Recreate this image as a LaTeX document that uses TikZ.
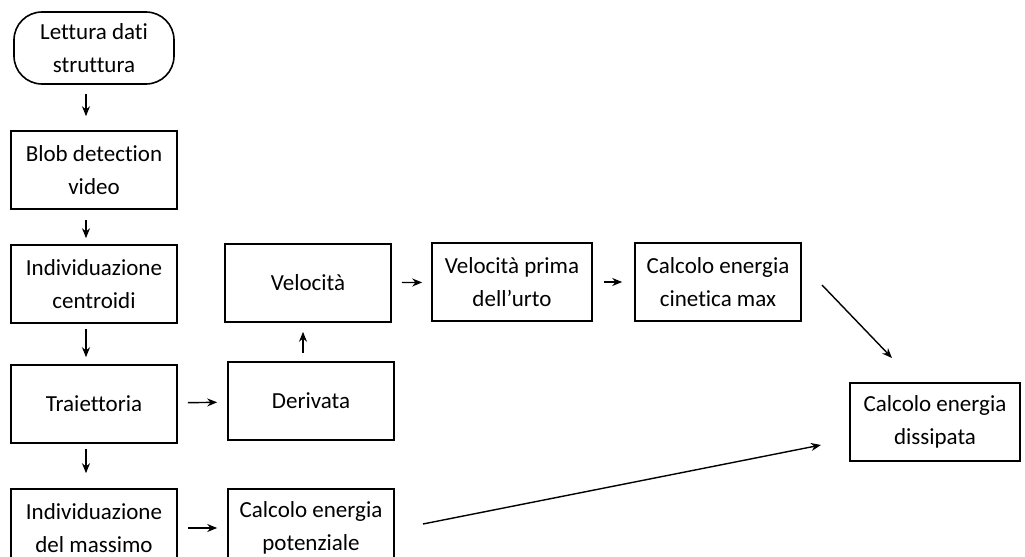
\documentclass[tikz,border=0pt]{standalone}
\usepackage{fontspec}
\setmainfont{Carlito}[Ligatures={NoCommon}]
\usetikzlibrary{arrows.meta}

\tikzset{
  box/.style={draw, line width=0.8pt, align=center, inner sep=1pt,
    minimum width=83pt, minimum height=39pt,
    font=\fontsize{11.5}{16.5}\selectfont},
  startbox/.style={box, rounded corners=14pt, minimum width=80pt, minimum height=36pt},
  flow/.style={-{Stealth[length=5pt,width=4pt]}, line width=0.7pt}
}

\begin{document}
\begin{tikzpicture}[x=0.5pt,y=-0.5pt]
    \useasboundingbox (0,0) rectangle (1025,557);
    \clip (0,0) rectangle (1025,557);

    % left column
    \node[startbox] (lettura) at (94,48) {Lettura dati\\struttura};
    \node[box] (blob) at (94,170) {Blob detection\\video};
    \node[box] (centroidi) at (94,284) {Individuazione\\centroidi};
    \node[box] (traiettoria) at (94,404) {Traiettoria};
    \node[box] (massimo) at (94,528) {Individuazione\\del massimo};

    % second column
    \node[box] (velocita) at (308,283) {Velocità};
    \node[box] (derivata) at (311,401) {Derivata};
    \node[box] (potenziale) at (311,528) {Calcolo energia\\potenziale};

    % right part
    \node[box, minimum width=80pt] (primaurto) at (512,282) {Velocità prima\\dell’urto};
    \node[box] (cinetica) at (718,282) {Calcolo energia\\cinetica max};
    \node[box, minimum width=85pt] (dissipata) at (935,422) {Calcolo energia\\dissipata};

    \coordinate (cinout) at (822,285);
    \coordinate (dissin) at (892,358);
    \coordinate (potout) at (423,524);
    \coordinate (dissin2) at (821,445);

    \draw[flow, shorten <=4.5pt, shorten >=7pt] ([xshift=-4pt]lettura.south) -- ([xshift=-4pt]blob.north);
    \draw[flow, shorten <=5pt, shorten >=3pt] ([xshift=-4pt]blob.south) -- ([xshift=-4pt]centroidi.north);
    \draw[flow, shorten <=2.5pt, shorten >=3.5pt] ([xshift=-4pt]centroidi.south) -- ([xshift=-4pt]traiettoria.north);
    \draw[flow, shorten <=2.5pt, shorten >=7.5pt] ([xshift=-4pt]traiettoria.south) -- ([xshift=-4pt]massimo.north);

    \draw[flow, shorten <=5pt, shorten >=5pt] (traiettoria) -- (derivata);
    \draw[flow, shorten <=5pt, shorten >=5pt] (massimo) -- (potenziale);
    \draw[flow, shorten <=4pt, shorten >=4.5pt] ([xshift=-4pt]derivata.north) -- ([xshift=-4pt]derivata.north |- velocita.south);
    \draw[flow, shorten <=5pt, shorten >=4.5pt] (velocita) -- (primaurto);
    \draw[flow, shorten <=5.5pt, shorten >=6pt] (primaurto) -- (cinetica);
    \draw[flow] (cinout) -- (dissin);
    \draw[flow] (potout) -- (dissin2);
\end{tikzpicture}
\end{document}
